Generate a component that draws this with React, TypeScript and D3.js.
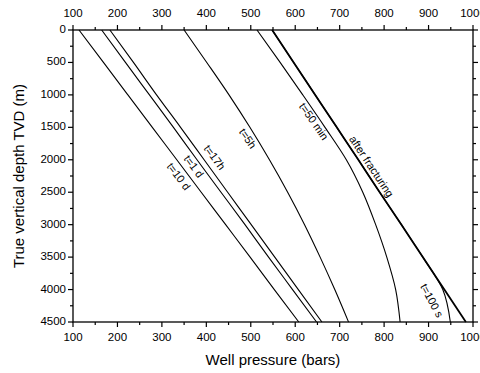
import React from "react";
import * as d3 from "d3";

const depths = [0, 500, 1000, 1500, 2000, 2500, 3000, 3500, 4000, 4500];
const afterFracturing = [548, 596.5, 645, 693.5, 742, 790, 839, 887, 935.5, 984];
const t100s = [548, 596.5, 645, 693.5, 742, 790, 839, 887, 932, 949];
const t50min = [514, 566, 617, 667, 715, 752, 781, 806, 826, 836];
const t5h = [350, 401, 451, 498, 542, 583, 621, 656, 689, 720];
const t17h = [183, 236, 288, 342, 395, 448, 501, 554, 607, 660];
const t1d = [164.5, 218, 272, 326, 379, 433, 487, 540, 594, 648];
const t10d = [113.5, 168.5, 223.5, 278.5, 333.5, 388.5, 443.5, 498.5, 553, 608];

const seriesNames = ["after fracturing", "t=100 s", "t=50 min", "t=5h", "t=17h", "t=1 d", "t=10 d"];
const seriesValues = [afterFracturing, t100s, t50min, t5h, t17h, t1d, t10d];

const labelTexts = ["t=10 d", "t=1 d", "t=17h", "t=5h", "t=50 min", "after fracturing", "t=100 s"];
const labelPressure = [336, 370, 417, 491.5, 640, 770, 905.5];
const labelDepth = [2265, 2111, 1972, 1680, 1418, 2110, 4176];
const labelAngle = [53, 53.5, 53.5, 55, 55, 56.5, 62];

const xMajor = [100, 200, 300, 400, 500, 600, 700, 800, 900, 1000];
const xMinor = [150, 250, 350, 450, 550, 650, 750, 850, 950];
const yMajor = [0, 500, 1000, 1500, 2000, 2500, 3000, 3500, 4000, 4500];
const yMinor = [250, 750, 1250, 1750, 2250, 2750, 3250, 3750, 4250];

export default function App() {
  const W = 480, H = 373;
  const left = 73, right = 473, top = 30, bottom = 322;
  const x = d3.scaleLinear().domain([100, 1000]).range([left, right]);
  const y = d3.scaleLinear().domain([0, 4500]).range([top, bottom]);
  const line = d3
    .line<[number, number]>()
    .x((d) => x(d[0]))
    .y((d) => y(d[1]))
    .curve(d3.curveMonotoneY);
  const font = "Arial, 'Liberation Sans', Helvetica, sans-serif";
  const ax = "#000";
  return (
    <svg width={W} height={H} style={{ position: "absolute", left: 0, top: 0, background: "#fff" }} fontFamily={font}>
      <rect x={0} y={0} width={W} height={H} fill="#fff" />
      {seriesValues.map((vals, i) => (
        <path
          key={seriesNames[i]}
          d={line(vals.map((v, j) => [v, depths[j]] as [number, number])) || ""}
          fill="none"
          stroke="#000"
          strokeWidth={i === 0 ? 1.8 : 1.1}
        />
      ))}
      {labelTexts.map((t, i) => (
        <text
          key={t}
          x={x(labelPressure[i])}
          y={y(labelDepth[i])}
          transform={`rotate(${labelAngle[i]},${x(labelPressure[i])},${y(labelDepth[i])})`}
          textAnchor="middle"
          dominantBaseline="middle"
          fontSize={11}
        >
          {t}
        </text>
      ))}
      {/* frame */}
      <rect x={left} y={top} width={right - left} height={bottom - top} fill="none" stroke={ax} strokeWidth={1.3} />
      {/* x ticks */}
      {xMajor.map((v) => (
        <g key={"xm" + v}>
          <line x1={x(v)} x2={x(v)} y1={top} y2={top - 5} stroke={ax} strokeWidth={1.2} />
          <line x1={x(v)} x2={x(v)} y1={bottom} y2={bottom + 5} stroke={ax} strokeWidth={1.2} />
          <text x={x(v)} y={14} textAnchor="middle" dominantBaseline="middle" fontSize={11.5}>{v}</text>
          <text x={x(v)} y={338} textAnchor="middle" dominantBaseline="middle" fontSize={11.5}>{v}</text>
        </g>
      ))}
      {xMinor.map((v) => (
        <g key={"xn" + v}>
          <line x1={x(v)} x2={x(v)} y1={top} y2={top - 3} stroke={ax} strokeWidth={1.2} />
          <line x1={x(v)} x2={x(v)} y1={bottom} y2={bottom + 3} stroke={ax} strokeWidth={1.2} />
        </g>
      ))}
      {yMajor.map((v) => (
        <g key={"ym" + v}>
          <line x1={left} x2={left - 5} y1={y(v)} y2={y(v)} stroke={ax} strokeWidth={1.2} />
          <line x1={right} x2={right + 5} y1={y(v)} y2={y(v)} stroke={ax} strokeWidth={1.2} />
          <text x={left - 7} y={y(v)} textAnchor="end" dominantBaseline="middle" fontSize={11.5}>{v}</text>
        </g>
      ))}
      {yMinor.map((v) => (
        <g key={"yn" + v}>
          <line x1={left} x2={left - 3} y1={y(v)} y2={y(v)} stroke={ax} strokeWidth={1.2} />
          <line x1={right} x2={right + 3} y1={y(v)} y2={y(v)} stroke={ax} strokeWidth={1.2} />
        </g>
      ))}
      <text x={(left + right) / 2} y={361} textAnchor="middle" dominantBaseline="middle" fontSize={15}>
        Well pressure (bars)
      </text>
      <text
        x={20}
        y={(top + bottom) / 2}
        transform={`rotate(-90,20,${(top + bottom) / 2})`}
        textAnchor="middle"
        dominantBaseline="middle"
        fontSize={15}
      >
        True vertical depth TVD (m)
      </text>
    </svg>
  );
}
